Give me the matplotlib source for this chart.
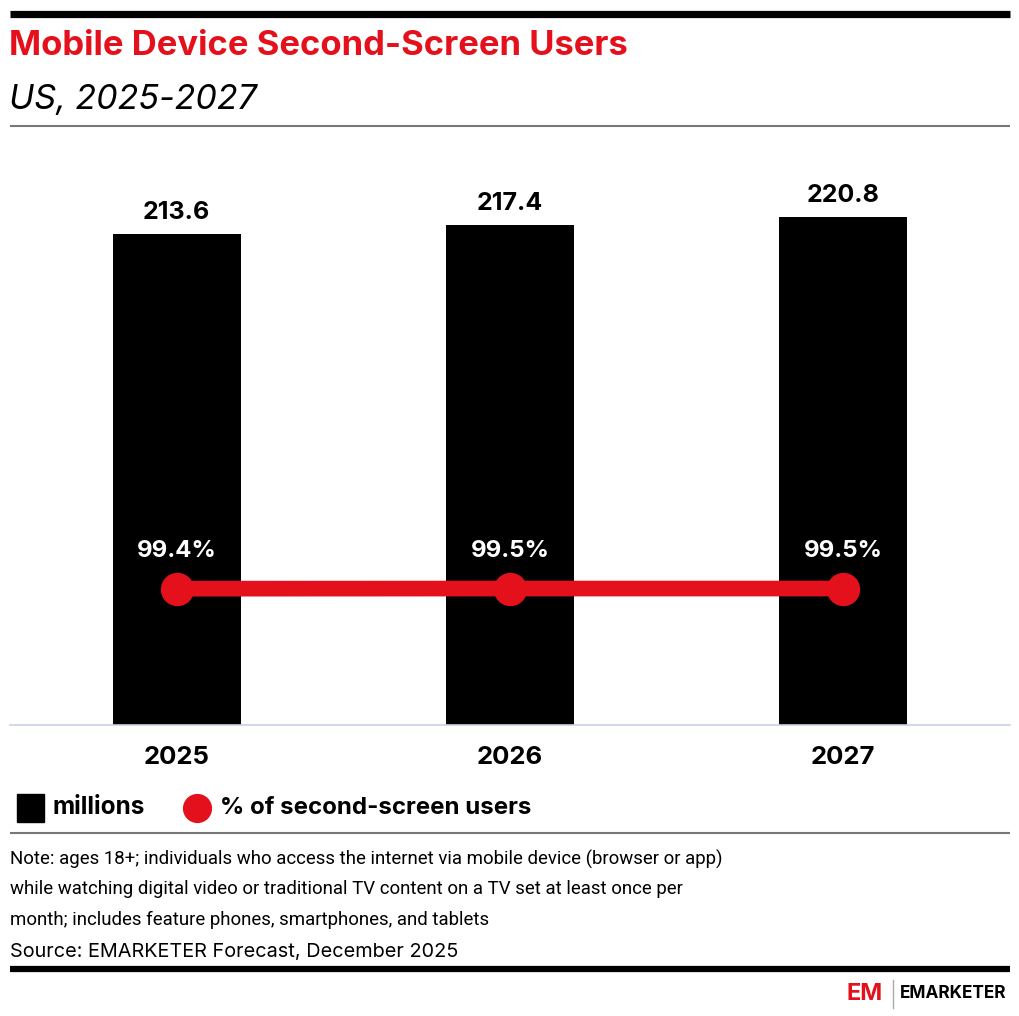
import matplotlib
matplotlib.use("Agg")
import matplotlib.pyplot as plt
from matplotlib.patches import Rectangle
from matplotlib.lines import Line2D

# data
years = ["2025", "2026", "2027"]
users_millions = [213.6, 217.4, 220.8]
pct_second_screen = [99.4, 99.5, 99.5]

title = "Mobile Device Second-Screen Users"
subtitle = "US, 2025-2027"
note_lines = [
    "Note: ages 18+; individuals who access the internet via mobile device (browser or app)",
    "while watching digital video or traditional TV content on a TV set at least once per",
    "month; includes feature phones, smartphones, and tablets",
]
source = "Source: EMARKETER Forecast, December 2025"

RED = "#E4111C"
W, H = 1020, 1016
plt.rcParams['font.family'] = ['Inter', 'DejaVu Sans']
NOTE_FONT = ['Roboto', 'DejaVu Sans']

fig = plt.figure(figsize=(W / 100, H / 100), dpi=100)


def fx(px):
    return px / W


def fy(py):
    return 1 - py / H


def hline(y, x0, x1, lw, color):
    fig.add_artist(Line2D([fx(x0), fx(x1)], [fy(y), fy(y)], lw=lw, color=color,
                          transform=fig.transFigure, solid_capstyle='butt'))


# header
hline(13.5, 10, 1010, 5.2, "black")
fig.text(fx(9), fy(46), title, color=RED, fontsize=24.9, fontweight='bold',
         va='center', ha='left')
fig.text(fx(9), fy(100), subtitle, color="black", fontsize=24.5, fontstyle='italic',
         va='center', ha='left')
hline(125.5, 10, 1010, 1.5, "#777777")

# main axes: baseline at y=725, top at y=160
ax_top, ax_bot = 160, 725
ax = fig.add_axes([fx(10), fy(ax_bot), fx(1010) - fx(10), (ax_bot - ax_top) / H])
x = range(len(years))
ax.bar(x, users_millions, width=0.384, color="black", zorder=2)
ax.set_xlim(-0.5, 2.5)
ax.set_ylim(0, 245.8)
for xi, v in zip(x, users_millions):
    ax.annotate(f"{v:.1f}", (xi, v), xytext=(0, 15), textcoords='offset pixels',
                ha='center', va='baseline', fontsize=18, fontweight='bold')
for s in ["top", "right", "left"]:
    ax.spines[s].set_visible(False)
ax.spines["bottom"].set_color("#c9d3e6")
ax.spines["bottom"].set_linewidth(1.2)
ax.set_yticks([])
ax.set_xticks(list(x))
ax.set_xticklabels(years, fontsize=18.5, fontweight='bold')
ax.tick_params(axis='x', length=0, pad=15)

ax2 = ax.twinx()
ax2.set_ylim(0, 412)
ax2.plot(list(x), pct_second_screen, color=RED, lw=11.3, marker='o', markersize=23,
         solid_capstyle='butt', zorder=3)
for xi, v in zip(x, pct_second_screen):
    ax2.annotate(f"{v:.1f}%", (xi, v), xytext=(0, 32), textcoords='offset pixels',
                 ha='center', va='baseline', fontsize=17.3, fontweight='bold', color="white")
ax2.axis('off')

# legend
fig.add_artist(Rectangle((fx(17), fy(822)), fx(44) - fx(17), (822 - 794) / H,
                         color="black", transform=fig.transFigure))
fig.text(fx(53), fy(808), "millions", fontsize=17.5, fontweight='bold', va='center')
fig.add_artist(Line2D([fx(197)], [fy(808)], marker='o', markersize=20, color=RED,
                      transform=fig.transFigure))
fig.text(fx(220), fy(808), "% of second-screen users", fontsize=17.3, fontweight='bold',
         va='center')
hline(832.5, 10, 1010, 1.5, "#777777")

# notes
for i, line in enumerate(note_lines):
    fig.text(fx(10), fy(859 + i * 30.5), line, fontsize=13.4, va='center', family=NOTE_FONT)
fig.text(fx(10), fy(952), source, fontsize=14.3, va='center')
hline(968.5, 10, 1010, 4.5, "black")

# logo
fig.text(fx(847), fy(994), "EM", color=RED, fontsize=17, fontweight='bold', va='center')
fig.add_artist(Line2D([fx(893), fx(893)], [fy(980), fy(1008)], lw=1, color="#aaaaaa",
                      transform=fig.transFigure))
fig.text(fx(900), fy(994), "EMARKETER", fontsize=12.4, fontweight='bold', va='center')

fig.savefig("out.png", dpi=100)
